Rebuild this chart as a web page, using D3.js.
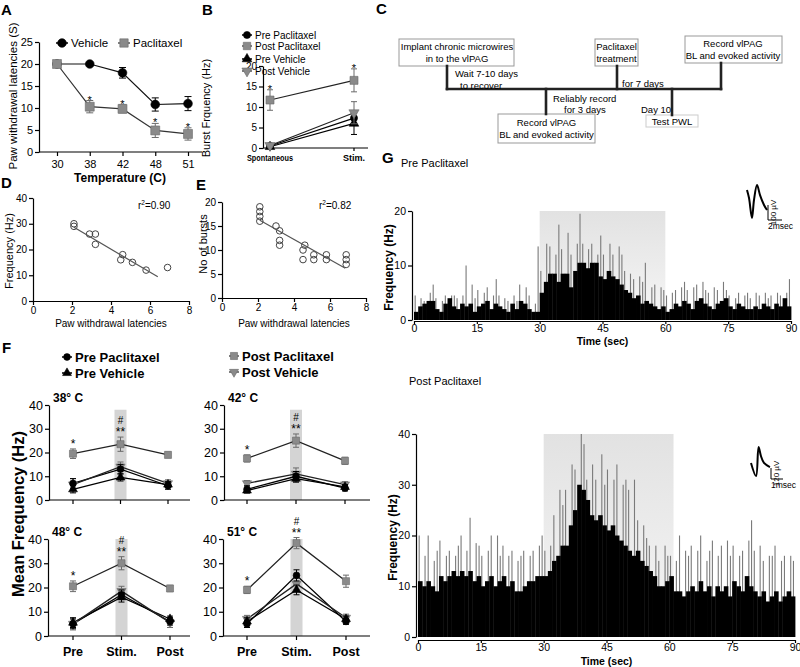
<!DOCTYPE html>
<html><head><meta charset="utf-8">
<script src="https://cdn.jsdelivr.net/npm/d3@7"></script>
<style>body{margin:0;background:#fff}svg{display:block}text{font-family:"Liberation Sans",Arial,Helvetica,sans-serif}</style>
</head><body><svg id="c" width="800" height="667"></svg>
<script>
// ================= DATA =================
// Panel A
const tempsA = ["30","38","42","48","51"];
const vehicleA = [20,20,18,10.8,11];
const vehicleErrA = [0.3,0.3,1.2,1.5,1.6];
const paclitaxelA = [20,10.3,9.8,4.9,4.1];
const paclitaxelErrA = [0.3,1.4,0.9,1.6,1.4];
// Panel B
const condB = ["Spontaneous","Stim."];
const prePacB = [0.5,7.3], prePacErrB = [0.3,1.2];
const postPacB = [11.7,16.5], postPacErrB = [2.5,2.8];
const preVehB = [0.3,6.0], preVehErrB = [0.2,2.7];
const postVehB = [0.6,8.6], postVehErrB = [0.3,2.7];
const legendB = ["Pre Paclitaxel","Post Paclitaxel","Pre Vehicle","Post Vehicle"];
// Panel C
const boxTextC = [["Implant chronic microwires","in to the vlPAG"],["Paclitaxel","treatment"],["Record vlPAG","BL and evoked activity"],["Record vlPAG","BL and evoked activity"],["Test PWL"]];
const noteTextC = [["Wait 7-10 days","to recover"],["Reliably record","for 3 days"],["for 7 days"],["Day 10"]];
// Panel D
const pwlD = [2.1,2.1,2.9,3.2,3.2,4.5,4.6,5.1,5.8,6.9];
const freqD = [30,29,26,26,22,16,18,15,12,13];
const fitXD = [2.1,6.4], fitYD = [28.6,9.4];
// Panel E
const pwlE = [2.1,2.1,2.1,2.1,3.0,3.2,3.2,3.2,4.5,4.5,4.6,5.1,5.1,5.8,5.8,6.9,6.9,6.9];
const burstsE = [19,18,17,16,15,14,12,11,10,8,11,9,8,9,8,9,8,7];
const fitXE = [2.1,6.85], fitYE = [16.2,6.2];
// Panel F
const tempsF = ["38° C","42° C","48° C","51° C"];
const phasesF = ["Pre","Stim.","Post"];
const postPacF = [[19.5,23.5,19],[17.5,25,16.5],[20.5,30,19.6],[19,38.3,22.6]];
const postPacErrF = [[2,3,1.2],[1.5,2.8,1.5],[2.2,2.7,1.3],[1.5,2.3,2.5]];
const prePacF = [[7,13,6],[4.5,10,5],[5,17,6],[5,25,6]];
const prePacErrF = [[2,2,1.5],[1.5,2,1.2],[2,2,1.5],[1.5,2.3,1.2]];
const preVehF = [[4.5,9.5,6.5],[4,9,5.5],[5.5,16,7],[6,19,7]];
const preVehErrF = [[1.5,1.5,1.2],[1,1.5,1],[2,2,1.2],[1.5,2,1.2]];
const postVehF = [[6.5,14,7],[7,11,6.5],[5,18.5,5.5],[7,21.5,7.5]];
const postVehErrF = [[2.5,2,1.5],[1.2,2.5,1.2],[2.5,2,2],[1.5,2.5,1.5]];
const bandTopF = [38,38,40,40];
// Panel G  (per-second bins 0..89 s)
const preBase = [1.5,2.5,3,3.5,3.5,2,1.5,3,4,2.5, 2,3,2.5,3,1.5,2.5,3,3.5,2,3, 2.5,2,1.5,3,2,3.5,3,2,1.5,1.5,
 5,7,8.5,8.5,7,8.5,8.5,6,9,10.5, 10.5,9.5,10.5,10.5,8,7.5,9,8,7.5,6.5, 5.5,5,4,4.5,3,3.5,3,2.5,2,2.5,
 1.5,2,3,2.5,3.5,3,2,3.5,4,3, 2.5,2,3,3.5,4,2.5,2,3,2.5,2, 2,2.5,2,3,2.5,2,3,2.5,4,2.5];
const prePeak = [4.5,4,3.5,5,6.5,4,3.5,4.5,4.5,4.5, 4,4.5,10,6.5,4,5.5,5,6,4.5,7.5, 4.5,4,3.5,4.5,3.5,6.5,6,4.5,3,13.5,
 9,14,13.5,12,17.5,13,16,12,14,19.5, 14,13,14,12,15.5,12,14,12,13.5,12, 9,8.5,7.5,8,7,10.5,6,6.5,6,5.5,
 4.5,5,5.5,6,7,5.5,6,6.5,7,5.5, 5,6,5.5,7,5.5,4.5,4,5,4.5,5, 4,5,4.5,5,4,4.5,5,4.5,5,7.5];
const postBase = [11,10,11,10,9,12,11,12,13,12, 13,12,13,11,12,10,11,12,10,11, 12,10,11,9,9,10,11,11,12,12,
 12,13,15,16,18,18,22,25,30,29, 27,24,23,24,22,21,22,20,19,18, 17,16,17,15,14,13,12,10,10,11,
 12,9,9,8,9,10,9,11,9,10, 8,10,9,10,8,11,10,9,12,10, 9,8,9,7,8,9,7,8,9,8];
const postPeak = [20,16,20,15,17,19,16,17,16,18, 20,17,23.5,18.5,18,16,17,20,20,16, 18,16,17,15,16,17,16,17,18,20,
 17,18,24,29,26,29,34,33,40,38, 31,34,31,36,30,33,31,34,30,31, 29,31,23,22,19.5,18,18,15,18,16,
 16,15,20,17,16,18,17,20,15,17, 19,16,18,19,16,18,16,17,19,23, 17,18,15,16,16,18,15,16,16,15];
const timeTicks = [0,15,30,45,60,75,90];
// spike waveform icons (ms, µV)
const wavePreT = [0,0.29,0.71,1.0,1.43,1.86,2.43,2.86];
const wavePreV = [67,13,-120,0,100,33,-33,-67];
const wavePostT = [0,0.42,0.63,0.83,1.08,1.58];
const wavePostV = [22,-120,196,98,22,-22];

// ================= HELPERS =================
const svg = d3.select("#c");
const FONT = '"Liberation Sans", Arial, sans-serif';
const GRAY = "#8a8a8a";
function txt(g, x, y, s, o = {}) {
  const t = g.append("text").attr("x", x).attr("y", y).text(s)
    .attr("font-family", FONT).attr("font-size", o.size || 10)
    .attr("font-weight", o.bold ? "bold" : "normal")
    .attr("text-anchor", o.anchor || "start").attr("fill", o.fill || "#000");
  if (o.rotate) t.attr("transform", `rotate(${o.rotate},${x},${y})`);
  if (o.len) t.attr("textLength", o.len).attr("lengthAdjust", "spacingAndGlyphs");
  return t;
}
function styleAxis(sel, size, bold) {
  sel.attr("font-family", FONT).attr("font-size", size).attr("font-weight", bold ? "bold" : "normal");
  sel.selectAll("path.domain").attr("stroke", "#000").attr("stroke-width", 1.2);
  sel.selectAll(".tick line").attr("stroke", "#000").attr("stroke-width", 1.2);
  sel.selectAll(".tick text").attr("fill", "#000");
}
const symMap = {circle: d3.symbolCircle, square: d3.symbolSquare, tri: d3.symbolTriangle, triDown: d3.symbolTriangle};
function marker(g, kind, x, y, area, fill) {
  g.append("path").attr("d", d3.symbol(symMap[kind], area)())
    .attr("transform", `translate(${x},${y})` + (kind === "triDown" ? " rotate(180)" : ""))
    .attr("fill", fill).attr("stroke", fill === "#000" ? "#000" : "#6a6a6a").attr("stroke-width", 0.6);
}
function errBars(g, xs, ys, cats, vals, errs, cap, color) {
  vals.forEach((v, i) => {
    const x = xs(cats[i]), y1 = ys(v - errs[i]), y2 = ys(v + errs[i]);
    g.append("line").attr("x1", x).attr("x2", x).attr("y1", y1).attr("y2", y2).attr("stroke", color).attr("stroke-width", 1);
    [y1, y2].forEach(yy => g.append("line").attr("x1", x - cap / 2).attr("x2", x + cap / 2).attr("y1", yy).attr("y2", yy).attr("stroke", color).attr("stroke-width", 1));
  });
}
function seriesLine(g, xs, ys, cats, vals, color, w) {
  g.append("path").datum(vals).attr("d", d3.line().x((d, i) => xs(cats[i])).y(d => ys(d)))
    .attr("fill", "none").attr("stroke", color).attr("stroke-width", w || 1.2);
}
function seriesMarks(g, xs, ys, cats, vals, errs, kind, fill, area, cap) {
  errBars(g, xs, ys, cats, vals, errs, cap, fill === "#000" ? "#000" : "#6a6a6a");
  vals.forEach((v, i) => marker(g, kind, xs(cats[i]), ys(v), area, fill));
}
function legendItem(g, x, y, kind, fill, area, label, size, bold, half) {
  g.append("line").attr("x1", x - half).attr("x2", x + half).attr("y1", y).attr("y2", y).attr("stroke", fill === "#000" ? "#000" : "#555").attr("stroke-width", 1.5);
  marker(g, kind, x, y, area, fill);
  txt(g, x + half + 3, y + size * 0.36, label, {size, bold});
}

// ================= PANEL LETTERS =================
[["A",1,15],["B",202,15],["C",376,14],["D",1,188],["E",196,190],["F",2,353],["G",382,163]]
  .forEach(([s, x, y]) => txt(svg, x, y, s, {size: 15, bold: true}));

// ================= PANEL A =================
{
  const g = svg.append("g");
  const x = d3.scalePoint().domain(tempsA).range([57, 188]);
  const y = d3.scaleLinear().domain([0, 25]).range([152, 42]);
  const ya = g.append("g").attr("transform", "translate(39,0)")
    .call(d3.axisLeft(y).tickValues([0,5,10,15,20,25]).tickSize(4).tickSizeOuter(0).tickPadding(2));
  styleAxis(ya, 11);
  const xa = g.append("g").attr("transform", "translate(0,152)")
    .call(d3.axisBottom(x).tickSize(4).tickSizeOuter(0).tickPadding(4));
  styleAxis(xa, 11); xa.select(".domain").remove();
  g.append("line").attr("x1", 39).attr("x2", 202).attr("y1", 152).attr("y2", 152).attr("stroke", "#000").attr("stroke-width", 1.2);
  txt(g, 120, 182, "Temperature (C)", {size: 12, bold: true, anchor: "middle"});
  txt(g, 17, 96, "Paw withdrawal latencies (S)", {size: 11.5, anchor: "middle", rotate: -90});
  seriesLine(g, x, y, tempsA, vehicleA, "#111");
  seriesLine(g, x, y, tempsA, paclitaxelA, "#333");
  seriesMarks(g, x, y, tempsA, vehicleA, vehicleErrA, "circle", "#000", 60, 7);
  seriesMarks(g, x, y, tempsA, paclitaxelA, paclitaxelErrA, "square", GRAY, 80, 7);
  tempsA.forEach((t, i) => { if (i > 0) txt(g, x(t), y(paclitaxelA[i] + paclitaxelErrA[i]) + 3, "*", {size: 11, anchor: "middle"}); });
  legendItem(g, 62, 43, "circle", "#000", 60, "Vehicle", 11.5, false, 6);
  legendItem(g, 124, 43, "square", GRAY, 70, "Paclitaxel", 11.5, false, 6);
}

// ================= PANEL B =================
{
  const g = svg.append("g");
  const x = d3.scalePoint().domain(condB).range([270, 354]);
  const y = d3.scaleLinear().domain([0, 20]).range([148, 66]);
  const ya = g.append("g").attr("transform", "translate(263,0)")
    .call(d3.axisLeft(y).tickValues([0,5,10,15,20]).tickSize(4).tickSizeOuter(0).tickPadding(2));
  styleAxis(ya, 10);
  g.append("line").attr("x1", 263).attr("x2", 368).attr("y1", 148).attr("y2", 148).attr("stroke", "#000").attr("stroke-width", 1.2);
  condB.forEach((c, i) => {
    g.append("line").attr("x1", x(c)).attr("x2", x(c)).attr("y1", 148).attr("y2", 151).attr("stroke", "#000").attr("stroke-width", 1.2);
    txt(g, x(c), 161, c, i === 0 ? {size: 9, bold: true, anchor: "middle", len: 46} : {size: 9, bold: true, anchor: "middle"});
  });
  txt(g, 210, 108, "Burst Frquency (Hz)", {size: 11, anchor: "middle", rotate: -90});
  seriesLine(g, x, y, condB, prePacB, "#000");
  seriesLine(g, x, y, condB, postPacB, "#222");
  seriesLine(g, x, y, condB, preVehB, "#000");
  seriesLine(g, x, y, condB, postVehB, "#222");
  seriesMarks(g, x, y, condB, preVehB, preVehErrB, "tri", "#000", 40, 6);
  seriesMarks(g, x, y, condB, prePacB, prePacErrB, "circle", "#000", 40, 6);
  seriesMarks(g, x, y, condB, postVehB, postVehErrB, "triDown", GRAY, 45, 6);
  seriesMarks(g, x, y, condB, postPacB, postPacErrB, "square", GRAY, 64, 6);
  condB.forEach((c, i) => txt(g, x(c), y(postPacB[i] + postPacErrB[i]) + 3, "*", {size: 11, anchor: "middle"}));
  const kinds = [["circle","#000",40],["square",GRAY,55],["tri","#000",40],["triDown",GRAY,45]];
  legendB.forEach((l, i) => legendItem(g, 247, [35,46,59,71][i], kinds[i][0], kinds[i][1], kinds[i][2], l, 10, false, 5));
}

// ================= PANEL C =================
{
  const g = svg.append("g");
  const boxes = [
    {x: 399, y: 39, w: 115, h: 27, cx: 457, ly: [50, 62], stroke: "#999"},
    {x: 595, y: 39, w: 43, h: 27, cx: 616.5, ly: [50, 62], stroke: "#999"},
    {x: 685, y: 36, w: 97, h: 27, cx: 733, ly: [46.5, 58.5], stroke: "#999"},
    {x: 498, y: 114, w: 97, h: 29, cx: 546.5, ly: [125.5, 138], stroke: "#999"},
    {x: 646, y: 115, w: 52, h: 12, cx: 672, ly: [124.5], stroke: "#ccc"}
  ];
  boxes.forEach((b, i) => {
    g.append("rect").attr("x", b.x).attr("y", b.y).attr("width", b.w).attr("height", b.h).attr("fill", "#fff").attr("stroke", b.stroke).attr("stroke-width", 1);
    boxTextC[i].forEach((s, j) => txt(g, b.cx, b.ly[j], s, {size: 9.5, anchor: "middle"}));
  });
  const lineC = (x1, y1, x2, y2) => g.append("line").attr("x1", x1).attr("y1", y1).attr("x2", x2).attr("y2", y2).attr("stroke", "#222").attr("stroke-width", 2.6).attr("stroke-linecap", "square");
  lineC(447, 89, 721, 89);
  lineC(447, 66, 447, 89);
  lineC(546, 89, 546, 114);
  lineC(617, 66, 617, 89);
  lineC(672, 89, 672, 115);
  lineC(721, 63, 721, 89);
  const notes = [{x: [455, 460], y: [77, 89]}, {x: [553, 564], y: [102, 113]}, {x: [622], y: [87]}, {x: [641], y: [113]}];
  notes.forEach((n, i) => noteTextC[i].forEach((s, j) => txt(g, n.x[j], n.y[j], s, {size: 9.5})));
}

// ================= PANEL D & E =================
function scatterPanel(o) {
  const g = svg.append("g");
  const x = d3.scaleLinear().domain([0, 8]).range([o.x0, o.x1]);
  const y = d3.scaleLinear().domain([0, o.ymax]).range([o.y0, o.ytop]);
  const ya = g.append("g").attr("transform", `translate(${o.x0},0)`)
    .call(d3.axisLeft(y).tickValues(o.yt).tickSize(4).tickSizeOuter(0).tickPadding(2));
  styleAxis(ya, 10);
  const xa = g.append("g").attr("transform", `translate(0,${o.y0})`)
    .call(d3.axisBottom(x).tickValues([0,2,4,6,8]).tickSize(4).tickSizeOuter(0).tickPadding(2));
  styleAxis(xa, 10);
  g.selectAll("circle").data(o.xs).join("circle")
    .attr("cx", d => x(d)).attr("cy", (d, i) => y(o.ys[i])).attr("r", 3.3)
    .attr("fill", "none").attr("stroke", "#444").attr("stroke-width", 1);
  g.append("line").attr("x1", x(o.fx[0])).attr("x2", x(o.fx[1])).attr("y1", y(o.fy[0])).attr("y2", y(o.fy[1])).attr("stroke", "#555").attr("stroke-width", 1.2);
  const r = txt(g, o.rx, 209, "r", {size: 10});
  r.append("tspan").text("2").attr("dy", -4).attr("font-size", 6.5);
  r.append("tspan").text(o.r2).attr("dy", 4);
  txt(g, (o.x0 + o.x1) / 2, 327, "Paw withdrawal latencies", {size: 10, anchor: "middle"});
  txt(g, o.lx, o.ly, o.label, {size: 11, anchor: "middle", rotate: -90});
}
scatterPanel({x0: 33, x1: 189, y0: 301, ytop: 198, ymax: 40, yt: [0,10,20,30,40], xs: pwlD, ys: freqD, fx: fitXD, fy: fitYD, rx: 138, r2: "=0.90", lx: 13, ly: 251, label: "Frequency (Hz)"});
scatterPanel({x0: 222, x1: 366, y0: 298, ytop: 202, ymax: 20, yt: [0,5,10,15,20], xs: pwlE, ys: burstsE, fx: fitXE, fy: fitYE, rx: 319, r2: "=0.82", lx: 207, ly: 244, label: "No of bursts"});

// ================= PANEL F =================
{
  const g = svg.append("g");
  const layoutF = [
    {ax: 49, xEnd: 190, y0: 500, y40: 405, c0: 73, c2: 168},
    {ax: 224, xEnd: 370, y0: 500, y40: 405, c0: 247, c2: 345},
    {ax: 48, xEnd: 190, y0: 636, y40: 539, c0: 73, c2: 170},
    {ax: 223, xEnd: 370, y0: 636, y40: 539, c0: 247, c2: 346}
  ];
  layoutF.forEach((L, k) => {
    const x = d3.scalePoint().domain(phasesF).range([L.c0, L.c2]);
    const y = d3.scaleLinear().domain([0, 40]).range([L.y0, L.y40]);
    g.append("rect").attr("x", x("Stim.") - 6).attr("width", 12).attr("y", y(bandTopF[k])).attr("height", y(0) - y(bandTopF[k])).attr("fill", "#d4d4d4");
    const ya = g.append("g").attr("transform", `translate(${L.ax},0)`)
      .call(d3.axisLeft(y).tickValues([0,10,20,30,40]).tickSize(4).tickSizeOuter(0).tickPadding(2));
    styleAxis(ya, 12.5);
    g.append("line").attr("x1", L.ax).attr("x2", L.xEnd).attr("y1", L.y0).attr("y2", L.y0).attr("stroke", "#000").attr("stroke-width", 1.2);
    phasesF.forEach(p => {
      g.append("line").attr("x1", x(p)).attr("x2", x(p)).attr("y1", L.y0).attr("y2", L.y0 + 4).attr("stroke", "#000").attr("stroke-width", 1.2);
      if (k >= 2) txt(g, x(p), 656, p, {size: 12.5, bold: true, anchor: "middle"});
    });
    txt(g, L.ax + 4, L.y40 - 3, tempsF[k], {size: 12, bold: true});
    seriesLine(g, x, y, phasesF, prePacF[k], "#000", 1.3);
    seriesLine(g, x, y, phasesF, preVehF[k], "#000", 1.3);
    seriesLine(g, x, y, phasesF, postVehF[k], "#222", 1.3);
    seriesLine(g, x, y, phasesF, postPacF[k], "#222", 1.3);
    seriesMarks(g, x, y, phasesF, postVehF[k], postVehErrF[k], "triDown", GRAY, 36, 6);
    seriesMarks(g, x, y, phasesF, preVehF[k], preVehErrF[k], "tri", "#000", 34, 6);
    seriesMarks(g, x, y, phasesF, prePacF[k], prePacErrF[k], "circle", "#000", 36, 6);
    seriesMarks(g, x, y, phasesF, postPacF[k], postPacErrF[k], "square", GRAY, 50, 6);
    const topPre = y(postPacF[k][0] + postPacErrF[k][0]);
    const topStim = y(postPacF[k][1] + postPacErrF[k][1]);
    txt(g, x("Pre"), topPre - 1, "*", {size: 12, anchor: "middle"});
    txt(g, x("Stim."), topStim - 1, "**", {size: 12, anchor: "middle"});
    txt(g, x("Stim."), topStim - 13, "#", {size: 10, anchor: "middle"});
  });
  txt(g, 24, 514, "Mean Frequency (Hz)", {size: 16.5, bold: true, anchor: "middle", rotate: -90});
  legendItem(g, 67, 357, "circle", "#000", 36, "Pre Paclitaxel", 13, true, 5);
  legendItem(g, 67, 373, "tri", "#000", 34, "Pre Vehicle", 13, true, 5);
  legendItem(g, 234, 356, "square", GRAY, 50, "Post Paclitaxel", 13, true, 5);
  legendItem(g, 234, 372, "triDown", GRAY, 36, "Post Vehicle", 13, true, 5);
}

// ================= PANEL G =================
{
  const defs = svg.append("defs");
  const gr = defs.append("linearGradient").attr("id", "stimGrad").attr("x1", 0).attr("y1", 0).attr("x2", 0).attr("y2", 1);
  gr.append("stop").attr("offset", "0%").attr("stop-color", "#e2e2e2");
  gr.append("stop").attr("offset", "100%").attr("stop-color", "#f6f6f6");

  function histo(o, base, peak) {
    const g = svg.append("g");
    const x = d3.scaleLinear().domain([0, 90]).range([o.x0, o.x1]);
    const y = d3.scaleLinear().domain([0, o.ymax]).range([o.y0, o.ytop]);
    g.append("rect").attr("x", x(30)).attr("width", x(o.stimEnd) - x(30)).attr("y", y(o.ymax)).attr("height", y(0) - y(o.ymax)).attr("fill", "url(#stimGrad)");
    const bw = x(1) - x(0);
    // thin spikes placed at varying sub-second positions (visual placement only)
    const subPos = [0.15, 0.55, 0.3, 0.75, 0.45, 0.1, 0.65, 0.35, 0.85, 0.5];
    g.selectAll("rect.pk").data(peak).join("rect").attr("class", "pk")
      .attr("x", (d, i) => x(i) + bw * subPos[i % subPos.length]).attr("width", 1.1)
      .attr("y", d => y(d)).attr("height", d => y(0) - y(d)).attr("fill", "#7a7a7a");
    g.selectAll("rect.bs").data(base).join("rect").attr("class", "bs")
      .attr("x", (d, i) => x(i)).attr("width", bw + 0.4)
      .attr("y", d => y(d)).attr("height", d => y(0) - y(d)).attr("fill", "#000");
    const ya = g.append("g").attr("transform", `translate(${o.x0 - 2},0)`)
      .call(d3.axisLeft(y).tickValues(o.yt).tickSize(4).tickSizeOuter(0).tickPadding(2));
    styleAxis(ya, 10.5);
    const xa = g.append("g").attr("transform", `translate(0,${o.y0 + o.xoff})`)
      .call(d3.axisBottom(x).tickValues(timeTicks).tickSize(3).tickSizeOuter(0).tickPadding(1));
    styleAxis(xa, 10.5);
    txt(g, (o.x0 + o.x1) / 2, o.tY, "Time (sec)", {size: 10.5, bold: true, anchor: "middle"});
    txt(g, o.x0 - 21, (o.y0 + o.ytop) / 2 + 2, "Frequency (Hz)", {size: 12, bold: true, anchor: "middle", rotate: -90});
    txt(g, o.titleX, o.titleY, o.title, {size: 11});
    // waveform icon
    const wx = d3.scaleLinear().domain([0, 1]).range([o.wx, o.wx + o.pxPerMs]);
    const wy = d3.scaleLinear().domain([0, 1]).range([o.wy, o.wy - o.pxPerUv]);
    g.append("path").datum(o.wt.map((t, i) => [t, o.wv[i]]))
      .attr("d", d3.line().x(d => wx(d[0])).y(d => wy(d[1])).curve(d3.curveCatmullRom))
      .attr("fill", "none").attr("stroke", "#000").attr("stroke-width", 2);
    const bx = o.barX, by = o.barY;
    g.append("path").attr("d", `M${bx},${by - o.barV}V${by}H${bx + o.barH}`).attr("fill", "none").attr("stroke", "#000").attr("stroke-width", 1);
    txt(g, bx + 8, by - o.barV / 2, o.vLabel, {size: 8, anchor: "middle", rotate: -90});
    txt(g, bx, by + 9, o.hLabel, {size: 8.5});
  }
  histo({x0: 414, x1: 791, y0: 320, ytop: 211, ymax: 20, yt: [0,10,20], stimEnd: 60, xoff: 1, tY: 345,
         title: "Pre Paclitaxel", titleX: 401, titleY: 167,
         wt: wavePreT, wv: wavePreV, wx: 747, wy: 200, pxPerMs: 7, pxPerUv: 0.15,
         barX: 768, barY: 220, barV: 15, barH: 14, vLabel: "100 µV", hLabel: "2msec"}, preBase, prePeak);
  histo({x0: 418, x1: 795, y0: 637, ytop: 434, ymax: 40, yt: [0,10,20,30,40], stimEnd: 61, xoff: 3, tY: 665,
         title: "Post Paclitaxel", titleX: 409, titleY: 385,
         wt: wavePostT, wv: wavePostV, wx: 751, wy: 465, pxPerMs: 12, pxPerUv: 0.092,
         barX: 771, barY: 479, barV: 11, barH: 12, vLabel: "120 µV", hLabel: "1msec"}, postBase, postPeak);
}
</script></body></html>
